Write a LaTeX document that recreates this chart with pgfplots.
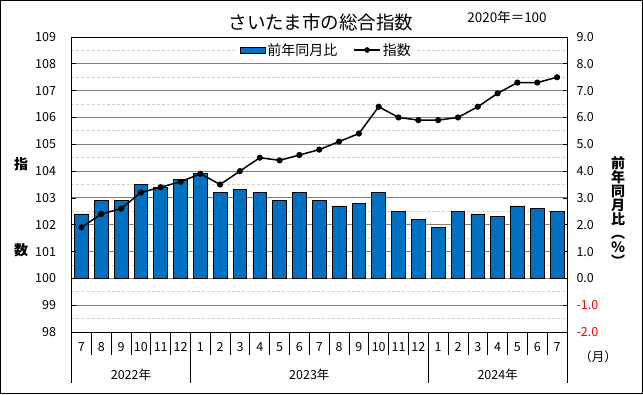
\documentclass[border=0pt]{standalone}
\usepackage{fontspec}
\setmainfont{Noto Sans CJK JP}
\usepackage{pgfplots}
\pgfplotsset{compat=1.18}
\definecolor{barblue}{HTML}{0070C0}
\definecolor{majgrid}{HTML}{808080}
\definecolor{mingrid}{HTML}{D0D0D0}
\pgfplotsset{
  barlegend/.style={legend image code/.code={\draw[fill=barblue,draw=black,line width=0.8pt] (0pt,-3pt) rectangle (25pt,3pt);}},
  linelegend/.style={legend image code/.code={\draw[black,line width=1.5pt] (0pt,0pt) -- (26pt,0pt); \fill[black] (13pt,0pt) circle (2pt);}},
}
\pgfplotstableread{
x pct idx
0 2.4 101.9
1 2.9 102.4
2 2.9 102.6
3 3.5 103.2
4 3.4 103.4
5 3.7 103.6
6 3.9 103.9
7 3.2 103.5
8 3.3 104.0
9 3.2 104.5
10 2.9 104.4
11 3.2 104.6
12 2.9 104.8
13 2.7 105.1
14 2.8 105.4
15 3.2 106.4
16 2.5 106.0
17 2.2 105.9
18 1.9 105.9
19 2.5 106.0
20 2.4 106.4
21 2.3 106.9
22 2.7 107.3
23 2.6 107.3
24 2.5 107.5
}\datatable
\newcommand{\tf}{\fontsize{12.5}{14}\selectfont}
\begin{document}
\begin{tikzpicture}
\useasboundingbox (0pt,0pt) rectangle (643pt,394pt);
\draw[black,line width=1pt] (0.6pt,1pt) rectangle (642.4pt,393.4pt);
% bars, grid, right axis
\begin{axis}[
  at={(71.5pt,62pt)}, anchor=south west,
  width=495.5pt, height=295pt, scale only axis,
  clip=false,
  xmin=-0.5, xmax=24.5, ymin=-2, ymax=9,
  axis line style={black, line width=0.8pt},
  ytick={-2,-1,0,1,2,3,4,5,6,7,8,9},
  yticklabels={\textcolor{red}{-2.0},\textcolor{red}{-1.0},0.0,1.0,2.0,3.0,4.0,5.0,6.0,7.0,8.0,9.0},
  ytick pos=right, tick align=inside, major tick length=4pt,
  ytick style={black, line width=0.8pt},
  minor ytick={-1.5,-0.5,0.5,1.5,2.5,3.5,4.5,5.5,6.5,7.5,8.5},
  minor tick length=0pt,
  ymajorgrids, yminorgrids,
  major grid style={majgrid, line width=0.9pt},
  minor grid style={mingrid, line width=0.8pt, dash pattern=on 3pt off 2pt},
  yticklabel style={font=\tf, anchor=west, xshift=6pt},
  xtick={0,...,24},
  xticklabels={7,8,9,10,11,12,1,2,3,4,5,6,7,8,9,10,11,12,1,2,3,4,5,6,7},
  xtick style={draw=none},
  xticklabel style={font=\tf, anchor=center, yshift=-15pt},
]
\addplot[ybar, bar width=13.7pt, fill=barblue, draw=black, line width=0.8pt] table[x=x, y=pct] {\datatable};
\pgfplotsinvokeforeach{-0.5,0.5,1.5,2.5,3.5,4.5,5.5,6.5,7.5,8.5,9.5,10.5,11.5,12.5,13.5,14.5,15.5,16.5,17.5,18.5,19.5,20.5,21.5,22.5,23.5,24.5}{
  \draw[black, line width=0.8pt] (axis cs:#1,-2) -- ++(0pt,-23pt);
}
\pgfplotsinvokeforeach{-0.5,5.5,17.5,24.5}{
  \draw[black, line width=0.8pt] (axis cs:#1,-2) -- ++(0pt,-51pt);
}
\node[font=\tf] at (axis cs:2.5,-2) [yshift=-43pt] {2022年};
\node[font=\tf] at (axis cs:11.5,-2) [yshift=-43pt] {2023年};
\node[font=\tf] at (axis cs:21,-2) [yshift=-43pt] {2024年};
\end{axis}
% index line, left axis
\begin{axis}[
  at={(71.5pt,62pt)}, anchor=south west,
  width=495.5pt, height=295pt, scale only axis,
  xmin=-0.5, xmax=24.5, ymin=98, ymax=109,
  axis x line=none, axis y line*=left,
  axis line style={black, line width=0.8pt},
  ytick={98,99,100,101,102,103,104,105,106,107,108,109},
  yticklabels={98,99,100,101,102,103,104,105,106,107,108,109},
  tick align=inside, major tick length=4pt,
  ytick style={black, line width=0.8pt},
  yticklabel style={font=\tf, anchor=east, xshift=-12pt},
  legend style={at={(0.514,0.956)}, anchor=center, draw=none, fill=white,
    font=\fontsize{14}{16}\selectfont, legend columns=2,
    inner xsep=3pt, inner ysep=1pt,
    /tikz/every even column/.append style={column sep=14pt}},
  legend cell align=left,
]
\addlegendimage{barlegend}
\addlegendentry{前年同月比}
\addplot[black, line width=1.5pt, mark=*, mark size=2.3pt, linelegend] table[x=x, y=idx] {\datatable};
\addlegendentry{指数}
\end{axis}
\node[font=\fontsize{18.5}{20}\selectfont] at (321pt,372pt) {さいたま市の総合指数};
\node[font=\fontsize{13.5}{15}\selectfont] at (507pt,377pt) {2020年＝100};
\node[font=\bfseries\fontsize{14}{16}\selectfont] at (21pt,230pt) {指};
\node[font=\bfseries\fontsize{14}{16}\selectfont] at (21pt,144pt) {数};
\node[font=\bfseries\fontsize{14}{14}\selectfont, align=center, inner sep=0pt] at (618pt,182pt) {前\\年\\同\\月\\比\\︵\\％\\︶};
\node[font=\tf] at (598pt,37pt) {（月）};
\end{tikzpicture}
\end{document}
